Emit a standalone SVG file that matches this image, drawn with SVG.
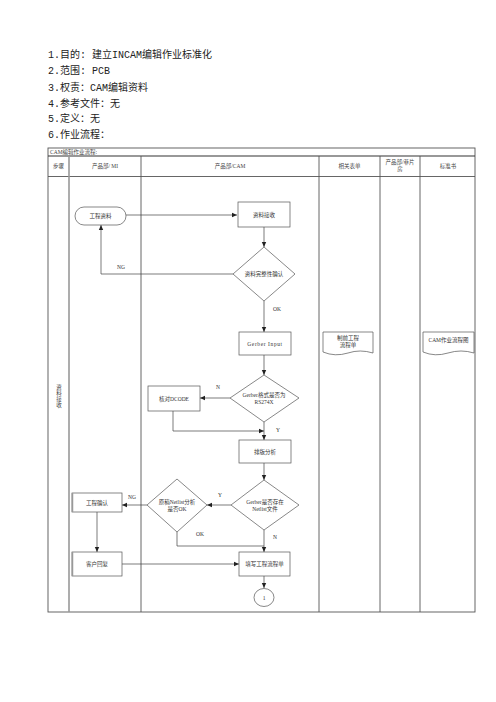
<svg xmlns="http://www.w3.org/2000/svg" width="496" height="702" viewBox="0 0 496 702">
<defs>
<style>
.t{font-family:"Liberation Mono","Noto Sans CJK SC",monospace;font-size:10px;fill:#222}
.s{font-family:"Liberation Serif","Noto Sans CJK SC",serif;font-size:5.5px;fill:#333;text-anchor:middle}
.h{font-family:"Liberation Serif","Noto Sans CJK SC",serif;font-size:5.5px;fill:#444;text-anchor:middle}
.b{fill:#fff;stroke:#555;stroke-width:0.7}
.tb{stroke:#555;stroke-width:0.9;fill:none}
.c{fill:none;stroke:#444;stroke-width:0.7;marker-end:url(#a)}
.cl{fill:none;stroke:#444;stroke-width:0.7}
</style>
<marker id="a" markerWidth="6" markerHeight="6" refX="5" refY="3" orient="auto" markerUnits="userSpaceOnUse">
<path d="M0,0.8 L5,3 L0,5.2 Z" fill="#222"/>
</marker>
</defs>
<rect width="496" height="702" fill="#fff"/>
<g id="intro">
<text class="t" x="48" y="58">1.目的: 建立INCAM编辑作业标准化</text>
<text class="t" x="48" y="74">2.范围: PCB</text>
<text class="t" x="48" y="91">3.权责：CAM编辑资料</text>
<text class="t" x="48" y="107">4.参考文件：无</text>
<text class="t" x="48" y="122">5.定义：无</text>
<text class="t" x="48" y="138">6.作业流程：</text>
</g>
<g id="table">
<rect x="48" y="148" width="427" height="464" class="tb"/>
<line x1="48" y1="156" x2="475" y2="156" stroke="#333" stroke-width="1.1"/>
<line x1="48" y1="176.5" x2="475" y2="176.5" class="tb"/>
<line x1="69" y1="156" x2="69" y2="612" stroke="#999" stroke-width="1.6"/>
<line x1="141" y1="156" x2="141" y2="612" class="tb"/>
<line x1="319" y1="156" x2="319" y2="612" class="tb"/>
<line x1="380" y1="156" x2="380" y2="612" class="tb"/>
<line x1="420" y1="156" x2="420" y2="612" class="tb"/>
<text class="h" x="50" y="154" style="text-anchor:start">CAM编辑作业流程:</text>
<text class="h" x="58.5" y="168">步骤</text>
<text class="h" x="105" y="168">产品部/ MI</text>
<text class="h" x="230" y="168">产品部/CAM</text>
<text class="h" x="349.5" y="168">相关表单</text>
<text class="h" x="400" y="164">产品部/菲片</text>
<text class="h" x="400" y="171">房</text>
<text class="h" x="448" y="168">标准书</text>
<text class="h" x="59" y="389">资</text>
<text class="h" x="59" y="395">料</text>
<text class="h" x="59" y="401">接</text>
<text class="h" x="59" y="407">收</text>
</g>
<g id="connectors">
<path class="c" d="M126,215 H237"/>
<path class="c" d="M264,227 V247"/>
<path class="c" d="M233,274 H101 V225"/>
<path class="c" d="M264,301 V332"/>
<path class="c" d="M264,355 V375"/>
<path class="c" d="M230,398 H200"/>
<path class="c" d="M173,411 V431 H264"/>
<path class="c" d="M264,422 V440"/>
<path class="c" d="M264,463 V480"/>
<path class="c" d="M231,505 H207"/>
<path class="c" d="M147,505 H122"/>
<path class="cl" d="M177,532 V546 H264"/>
<path class="c" d="M264,530 V552"/>
<path class="c" d="M97,512 V552"/>
<path class="c" d="M122,564 H239"/>
<path class="c" d="M264,576 V588"/>
<text class="s" x="121" y="269">NG</text>
<text class="s" x="277" y="311">OK</text>
<text class="s" x="218" y="389">N</text>
<text class="s" x="278" y="432">Y</text>
<text class="s" x="220" y="497">Y</text>
<text class="s" x="132" y="499">NG</text>
<text class="s" x="200" y="536">OK</text>
<text class="s" x="275" y="539">N</text>
</g>
<g id="n1"><rect class="b" x="75" y="207" width="51" height="18" rx="9"/><text class="s" x="100.5" y="218">工程资料</text></g>
<g id="n2"><rect class="b" x="238" y="202" width="52" height="25"/><text class="s" x="264" y="216.5">资料接收</text></g>
<g id="n3"><path class="b" d="M264,247 L295,274 L264,301 L233,274 Z"/><text class="s" x="264" y="276">资料完整性确认</text></g>
<g id="n4"><rect class="b" x="239" y="332" width="52" height="23"/><text class="s" x="265" y="345.5" style="letter-spacing:0.6px">Gerber Input</text></g>
<g id="n5"><path class="b" d="M264,375 L299,398 L264,422 L230,398 Z"/><text class="s" x="264" y="397">Gerber格式是否为</text><text class="s" x="264" y="404">RS274X</text></g>
<g id="n6"><rect class="b" x="148" y="386" width="52" height="25"/><text class="s" x="174" y="400.5">核对DCODE</text></g>
<g id="n7"><rect class="b" x="239" y="440" width="52" height="23"/><text class="s" x="265" y="453.5">排版分析</text></g>
<g id="n8"><path class="b" d="M264,480 L299,505 L264,530 L231,505 Z"/><text class="s" x="265" y="504">Gerber是否存在</text><text class="s" x="265" y="511">Netlist文件</text></g>
<g id="n9"><path class="b" d="M177,479 L207,505 L177,532 L147,505 Z"/><text class="s" x="177" y="504">原稿Netlist分析</text><text class="s" x="177" y="511">是否OK</text></g>
<g id="n10"><rect class="b" x="72" y="493" width="50" height="19"/><line x1="72.5" y1="493" x2="72.5" y2="512" stroke="#999" stroke-width="1.5"/><text class="s" x="97" y="504.5">工程确认</text></g>
<g id="n11"><rect class="b" x="72" y="552" width="50" height="24"/><line x1="72.5" y1="552" x2="72.5" y2="576" stroke="#999" stroke-width="1.5"/><text class="s" x="97" y="566">客户回复</text></g>
<g id="n12"><rect class="b" x="239" y="552" width="51" height="24"/><text class="s" x="264.5" y="566">填写工程流程单</text></g>
<g id="n13"><ellipse class="b" cx="264" cy="597.5" rx="10" ry="9"/><text class="s" x="264" y="599.5">1</text></g>
<g id="n14"><path class="b" d="M323,332 H373 V353 Q360,349 348,353 Q335,357 323,352 Z"/><text class="s" x="348" y="340">制前工程</text><text class="s" x="348" y="346.5">流程单</text></g>
<g id="n15"><path class="b" d="M423,332 H474 V353 Q461,349 448,353 Q435,357 423,352 Z"/><text class="s" x="448.5" y="342">CAM作业流程图</text></g>
</svg>
